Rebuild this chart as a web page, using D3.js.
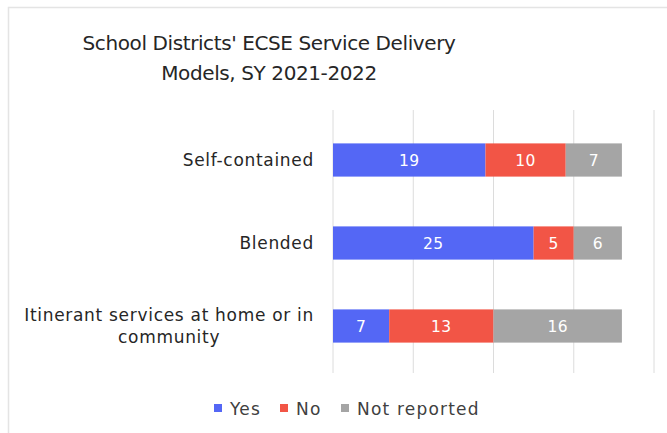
<!DOCTYPE html>
<html>
<head>
<meta charset="utf-8">
<script src="https://cdn.jsdelivr.net/npm/d3@7"></script>
<style>
  html, body { margin: 0; padding: 0; background: #fff; }
  svg { display: block; font-family: "DejaVu Sans", sans-serif; }
</style>
</head>
<body>
<svg id="chart" width="667" height="433"></svg>
<script>
// Service delivery models, counts of school districts
const categories = ["Self-contained", "Blended", "Itinerant services at home or in community"];
const yesValues = [19, 25, 7];
const noValues = [10, 5, 13];
const notReportedValues = [7, 6, 16];
const seriesNames = ["Yes", "No", "Not reported"];
const seriesColors = ["#5467F5", "#F25546", "#A5A5A5"];
const xTicks = [0, 10, 20, 30, 40];
const titleLines = ["School Districts' ECSE Service Delivery", "Models, SY 2021-2022"];

const svg = d3.select("#chart");

// Outer frame
svg.append("rect")
  .attr("x", 8.5).attr("y", 7.5)
  .attr("width", 700).attr("height", 500)
  .attr("fill", "none").attr("stroke", "#e4e4e4").attr("stroke-width", 1.5);

// Title
const titleX = 269;
svg.append("text")
  .attr("x", titleX).attr("y", 50)
  .attr("text-anchor", "middle")
  .attr("font-size", 20).attr("letter-spacing", -0.4).attr("fill", "#262626")
  .selectAll("tspan").data(titleLines).join("tspan")
  .attr("x", titleX).attr("dy", (d, i) => i === 0 ? 0 : 30)
  .text(d => d);

// Table of stacked rows
const rows = categories.map((c, i) => ({
  category: c, Yes: yesValues[i], No: noValues[i], "Not reported": notReportedValues[i]
}));
const stack = d3.stack().keys(seriesNames);
const layers = stack(rows);

const x = d3.scaleLinear().domain([0, 40]).range([333, 654]);
const y = d3.scaleBand().domain(categories).range([118.5, 367.5]).paddingInner(0.6).paddingOuter(0.3);
const color = d3.scaleOrdinal().domain(seriesNames).range(seriesColors);

// Vertical gridlines
svg.append("g").selectAll("line").data(xTicks).join("line")
  .attr("x1", d => x(d)).attr("x2", d => x(d))
  .attr("y1", 110).attr("y2", 373)
  .attr("stroke", "#dcdcdc").attr("stroke-width", 1);

// Bars
const layerG = svg.append("g").selectAll("g").data(layers).join("g")
  .attr("fill", d => color(d.key));
layerG.selectAll("rect").data(d => d).join("rect")
  .attr("x", d => x(d[0]))
  .attr("y", d => y(d.data.category))
  .attr("width", d => x(d[1]) - x(d[0]))
  .attr("height", y.bandwidth());

// Value labels
svg.append("g").selectAll("g").data(layers).join("g")
  .selectAll("text").data(d => d.map(v => ({v, key: d.key}))).join("text")
  .attr("x", d => (x(d.v[0]) + x(d.v[1])) / 2)
  .attr("y", d => y(d.v.data.category) + y.bandwidth() / 2)
  .attr("dy", "0.36em")
  .attr("text-anchor", "middle")
  .attr("font-size", 15.5).attr("letter-spacing", 0.4).attr("fill", "#fff")
  .text(d => d.v[1] - d.v[0]);

// Category labels, wrapped to fit the label column
const labelRight = 314;
const labelWidth = 300;
const labelSize = 17;
const labelSpacing = 0.7;
const catG = svg.append("g");
categories.forEach(cat => {
  const cy = y(cat) + y.bandwidth() / 2;
  const t = catG.append("text").attr("font-size", labelSize)
    .attr("letter-spacing", labelSpacing).attr("fill", "#262626");
  // greedy word wrap
  const words = cat.split(" ");
  const lines = [];
  let line = [];
  const probe = catG.append("text").attr("font-size", labelSize).attr("letter-spacing", labelSpacing);
  words.forEach(w => {
    const test = line.concat(w).join(" ");
    probe.text(test);
    if (probe.node().getComputedTextLength() > labelWidth && line.length) {
      lines.push(line.join(" "));
      line = [w];
    } else {
      line.push(w);
    }
  });
  lines.push(line.join(" "));
  probe.text(lines[0]);
  const firstWidth = probe.node().getComputedTextLength();
  probe.remove();
  const lh = 22;
  const top = cy - (lines.length - 1) * lh / 2;
  if (lines.length === 1) {
    t.attr("text-anchor", "end").attr("x", labelRight).attr("y", top).attr("dy", "0.36em").text(lines[0]);
  } else {
    const mid = labelRight - firstWidth / 2;
    t.attr("text-anchor", "middle");
    lines.forEach((l, i) => {
      t.append("tspan").attr("x", mid).attr("y", top + i * lh).attr("dy", "0.36em").text(l);
    });
  }
});

// Legend
const legendItems = [
  {name: "Yes", sx: 214, tx: 230},
  {name: "No", sx: 280, tx: 296},
  {name: "Not reported", sx: 341, tx: 357}
];
const lg = svg.append("g");
legendItems.forEach(it => {
  lg.append("rect").attr("x", it.sx).attr("y", 404).attr("width", 8).attr("height", 8)
    .attr("fill", color(it.name));
  lg.append("text").attr("x", it.tx).attr("y", 415)
    .attr("font-size", 17).attr("letter-spacing", 1.2).attr("fill", "#404040").text(it.name);
});
</script>
</body>
</html>
